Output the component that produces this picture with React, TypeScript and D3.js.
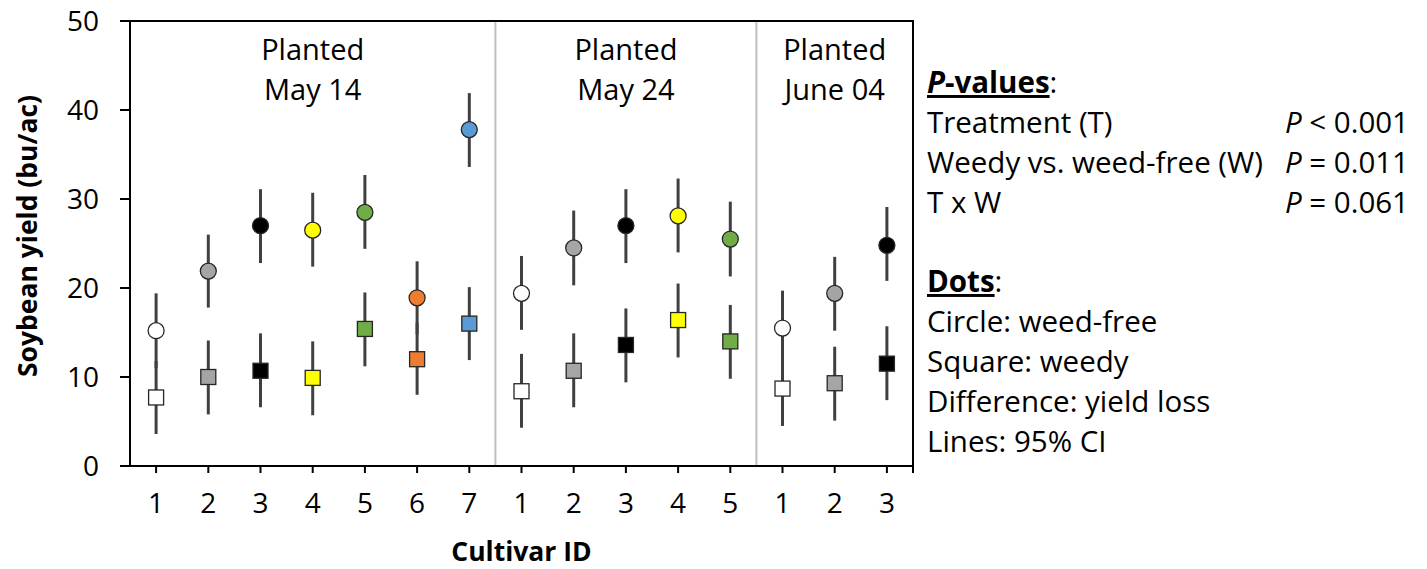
import React, { useRef, useEffect } from 'react';
import * as d3 from 'd3';

// cultivar ids along the x axis, grouped by planting date
const cultivarIds = ['1', '2', '3', '4', '5', '6', '7', '1', '2', '3', '4', '5', '1', '2', '3'];
const plantingDates = ['May 14', 'May 24', 'June 04'];
const groupSizes = [7, 5, 3];
const cultivarColors = ['#ffffff', '#a5a5a5', '#000000', '#ffff00', '#70ad47', '#ed7d31', '#5b9bd5',
  '#ffffff', '#a5a5a5', '#000000', '#ffff00', '#70ad47',
  '#ffffff', '#a5a5a5', '#000000'];

// weed-free (circles)
const weedFree = [15.2, 21.9, 27.0, 26.5, 28.5, 18.9, 37.8, 19.4, 24.5, 27.0, 28.1, 25.5, 15.5, 19.4, 24.8];
const weedFreeLo = [11.0, 17.8, 22.8, 22.4, 24.4, 14.8, 33.6, 15.3, 20.3, 22.8, 24.0, 21.3, 11.3, 15.2, 20.8];
const weedFreeHi = [19.4, 26.0, 31.1, 30.7, 32.7, 23.0, 41.9, 23.6, 28.7, 31.1, 32.3, 29.7, 19.7, 23.5, 29.1];

// weedy (squares)
const weedy = [7.7, 10.0, 10.7, 9.9, 15.4, 12.0, 16.0, 8.4, 10.7, 13.6, 16.4, 14.0, 8.7, 9.3, 11.5];
const weedyLo = [3.6, 5.8, 6.6, 5.7, 11.2, 8.0, 11.9, 4.3, 6.6, 9.4, 12.2, 9.8, 4.5, 5.1, 7.4];
const weedyHi = [11.8, 14.1, 14.9, 14.0, 19.5, 16.1, 20.1, 12.6, 14.9, 17.7, 20.5, 18.1, 12.9, 13.4, 15.7];

const yTicks = [0, 10, 20, 30, 40, 50];

const pRows = [
  ['Treatment (T)', '< 0.001'],
  ['Weedy vs. weed-free (W)', '= 0.011'],
  ['T x W', '= 0.061'],
];
const dotNotes = ['Circle: weed-free', 'Square: weedy', 'Difference: yield loss', 'Lines: 95% CI'];

const FONT = '"Open Sans", Lato, sans-serif';

function App() {
  const svgRef = useRef<SVGSVGElement>(null);

  useEffect(() => {
    const svg = d3.select(svgRef.current);
    svg.selectAll('*').remove();

    const width = 1427;
    const height = 569;
    const margin = { top: 21, right: 514, bottom: 103, left: 130 };

    const idx = d3.range(cultivarIds.length);
    const x = d3.scaleBand<number>()
      .domain(idx)
      .range([margin.left, width - margin.right])
      .padding(0);

    const y = d3.scaleLinear()
      .domain([0, 50])
      .range([height - margin.bottom, margin.top]);

    const x0 = margin.left;
    const x1 = width - margin.right;
    const y0 = y(0);
    const yTop = y(50);

    // group separators and labels
    let acc = 0;
    groupSizes.forEach((n, gi) => {
      const start = acc;
      acc += n;
      const cx = (x(start)! + x(acc - 1)! + x.bandwidth()) / 2;
      if (gi < groupSizes.length - 1) {
        svg.append('line')
          .attr('x1', x(acc)!).attr('x2', x(acc)!)
          .attr('y1', yTop).attr('y2', y0)
          .attr('stroke', '#bfbfbf').attr('stroke-width', 2);
      }
      const t = svg.append('text')
        .attr('text-anchor', 'middle')
        .attr('font-family', FONT)
        .attr('font-size', 29)
        .attr('fill', '#000');
      t.append('tspan').attr('x', cx).attr('y', 60).text('Planted');
      t.append('tspan').attr('x', cx).attr('y', 100).text(plantingDates[gi]);
    });

    // frame
    svg.append('path')
      .attr('d', `M${x0 - 10},${yTop}H${x1}V${y0 + 7}`)
      .attr('fill', 'none').attr('stroke', '#000').attr('stroke-width', 2);
    svg.append('path')
      .attr('d', `M${x0},${yTop}V${y0}`)
      .attr('fill', 'none').attr('stroke', '#000').attr('stroke-width', 2);
    svg.append('line')
      .attr('x1', x0 - 10).attr('x2', x1)
      .attr('y1', y0).attr('y2', y0)
      .attr('stroke', '#000').attr('stroke-width', 2);

    // y ticks
    yTicks.forEach(v => {
      svg.append('line')
        .attr('x1', x0 - 10).attr('x2', x0)
        .attr('y1', y(v)).attr('y2', y(v))
        .attr('stroke', '#000').attr('stroke-width', 2);
      svg.append('text')
        .attr('x', x0 - 31).attr('y', y(v))
        .attr('dy', '0.36em')
        .attr('text-anchor', 'end')
        .attr('font-family', FONT).attr('font-size', 28)
        .text(v);
    });

    // x ticks
    idx.forEach(i => {
      const cx = x(i)! + x.bandwidth() / 2;
      svg.append('line')
        .attr('x1', cx).attr('x2', cx)
        .attr('y1', y0).attr('y2', y0 + 7)
        .attr('stroke', '#000').attr('stroke-width', 2);
      svg.append('text')
        .attr('x', cx).attr('y', y0 + 47)
        .attr('text-anchor', 'middle')
        .attr('font-family', FONT).attr('font-size', 28)
        .text(cultivarIds[i]);
    });

    // error bars
    const bars = svg.append('g').attr('stroke', '#404040').attr('stroke-width', 3);
    idx.forEach(i => {
      const cx = x(i)! + x.bandwidth() / 2;
      bars.append('line').attr('x1', cx).attr('x2', cx)
        .attr('y1', y(weedFreeLo[i])).attr('y2', y(weedFreeHi[i]));
      bars.append('line').attr('x1', cx).attr('x2', cx)
        .attr('y1', y(weedyLo[i])).attr('y2', y(weedyHi[i]));
    });

    // markers
    const s = 15;
    idx.forEach(i => {
      const cx = x(i)! + x.bandwidth() / 2;
      svg.append('rect')
        .attr('x', cx - s / 2).attr('y', y(weedy[i]) - s / 2)
        .attr('width', s).attr('height', s)
        .attr('fill', cultivarColors[i])
        .attr('stroke', '#262626').attr('stroke-width', 1.3);
      svg.append('circle')
        .attr('cx', cx).attr('cy', y(weedFree[i]))
        .attr('r', 8)
        .attr('fill', cultivarColors[i])
        .attr('stroke', '#262626').attr('stroke-width', 1.3);
    });

    // axis titles
    svg.append('text')
      .attr('transform', `translate(28, 236) rotate(-90)`)
      .attr('dy', '0.35em')
      .attr('text-anchor', 'middle')
      .attr('font-family', FONT).attr('font-size', 26.5).attr('font-weight', 'bold')
      .text('Soybean yield (bu/ac)');

    svg.append('text')
      .attr('x', (x0 + x1) / 2).attr('y', 561)
      .attr('text-anchor', 'middle')
      .attr('font-family', FONT).attr('font-size', 26.5).attr('font-weight', 'bold')
      .text('Cultivar ID');

    // side notes
    const lx = 927;
    const rx = 1409;
    const fs = 29.5;
    const head1 = svg.append('text')
      .attr('x', lx).attr('y', 93)
      .attr('font-family', FONT).attr('font-size', fs);
    const u1 = head1.append('tspan').attr('font-weight', 'bold').attr('text-decoration', 'underline');
    u1.append('tspan').attr('font-style', 'italic').text('P');
    u1.append('tspan').text('-values');
    head1.append('tspan').text(':');

    pRows.forEach(([label, val], k) => {
      const yy = 133 + k * 40;
      svg.append('text')
        .attr('x', lx).attr('y', yy)
        .attr('font-family', FONT).attr('font-size', fs)
        .text(label);
      const t = svg.append('text')
        .attr('x', rx).attr('y', yy)
        .attr('text-anchor', 'end')
        .attr('font-family', FONT).attr('font-size', fs);
      t.append('tspan').attr('font-style', 'italic').text('P');
      t.append('tspan').text(' ' + val);
    });

    const head2 = svg.append('text')
      .attr('x', lx).attr('y', 292)
      .attr('font-family', FONT).attr('font-size', fs);
    head2.append('tspan').attr('font-weight', 'bold').attr('text-decoration', 'underline').text('Dots');
    head2.append('tspan').text(':');

    dotNotes.forEach((note, k) => {
      svg.append('text')
        .attr('x', lx).attr('y', 332 + k * 40)
        .attr('font-family', FONT).attr('font-size', fs)
        .text(note);
    });
  }, []);

  return (
    <svg ref={svgRef} width={1427} height={569}
      style={{ position: 'absolute', left: 0, top: 0, background: '#fff' }}></svg>
  );
}

export default App;
